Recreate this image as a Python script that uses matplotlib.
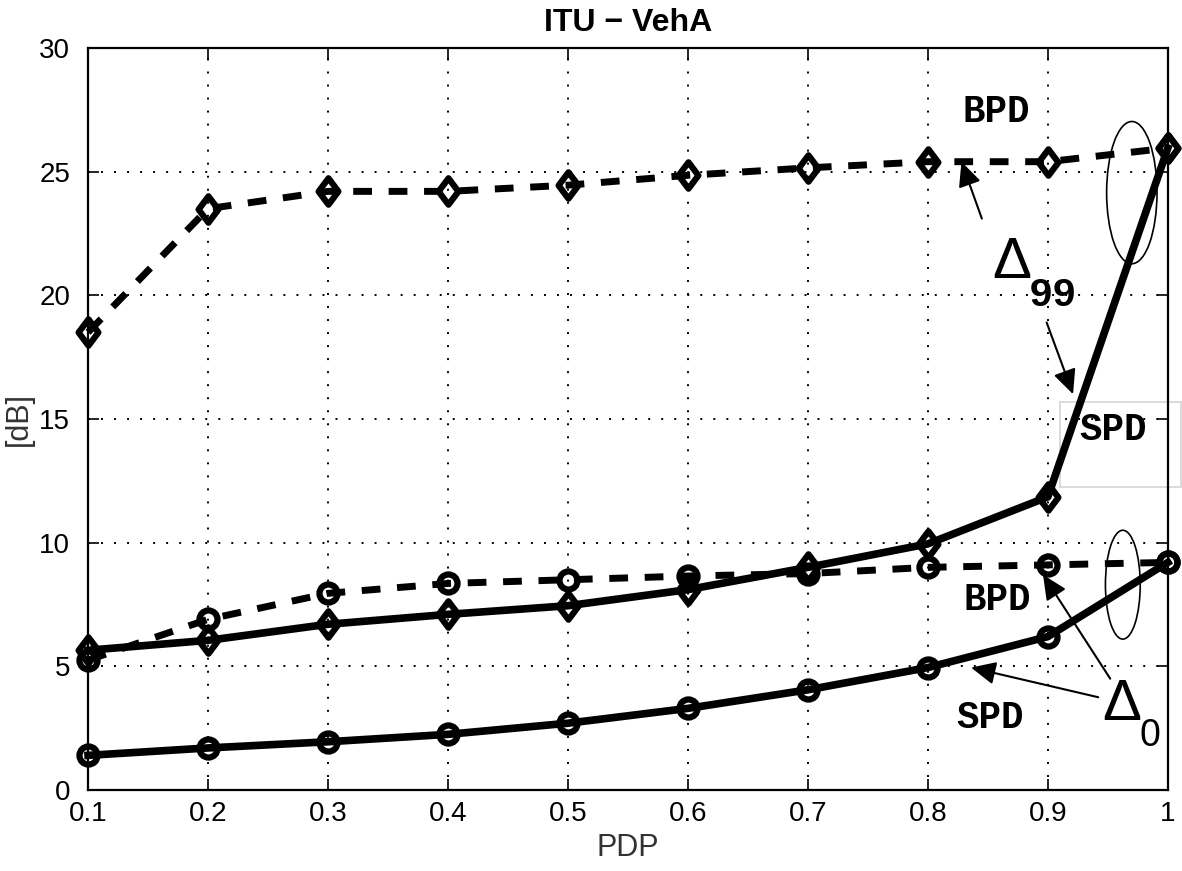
import matplotlib.pyplot as plt
from matplotlib.patches import Ellipse, Rectangle
from matplotlib.path import Path

plt.rcParams["font.family"] = ["Liberation Sans", "DejaVu Sans"]

pdp = [0.1, 0.2, 0.3, 0.4, 0.5, 0.6, 0.7, 0.8, 0.9, 1.0]

# Delta_99
bpd_d99 = [18.5, 23.5, 24.2, 24.2, 24.45, 24.85, 25.15, 25.4, 25.4, 25.95]
spd_d99 = [5.65, 6.05, 6.7, 7.1, 7.45, 8.1, 9.0, 9.95, 11.85, 25.95]
# Delta_0
bpd_d0 = [5.25, 6.9, 7.95, 8.35, 8.5, 8.65, 8.75, 9.0, 9.1, 9.2]
spd_d0 = [1.4, 1.7, 1.95, 2.25, 2.7, 3.3, 4.05, 4.95, 6.2, 9.2]

fig = plt.figure(figsize=(11.82, 8.71), dpi=100)
ax = fig.add_axes([0.0745, 0.093, 0.9135, 0.852])

# slightly narrow diamond, like the matlab one
diamond = Path([(0, 1), (0.75, 0), (0, -1), (-0.75, 0), (0, 1)],
               [Path.MOVETO, Path.LINETO, Path.LINETO, Path.LINETO, Path.CLOSEPOLY])

dmk = dict(marker=diamond, markersize=19, markeredgewidth=4.5,
           markerfacecolor="none", markeredgecolor="black", clip_on=False)
omk = dict(marker="o", markersize=13, markeredgewidth=4.5,
           markerfacecolor="none", markeredgecolor="black", clip_on=False)
dash = (2.7, 2.4)
ax.plot(pdp, bpd_d99, "k--", lw=5, dashes=dash, **dmk)
ax.plot(pdp, spd_d99, "k-", lw=5.5, **dmk)
ax.plot(pdp, bpd_d0, "k--", lw=5, dashes=dash, **omk)
ax.plot(pdp, spd_d0, "k-", lw=5.5, **omk)

ax.set_xlim(0.1, 1.0)
ax.set_ylim(0, 30)
ax.set_xticks(pdp)
ax.set_xticklabels(["0.1", "0.2", "0.3", "0.4", "0.5", "0.6", "0.7", "0.8", "0.9", "1"])
ax.set_yticks([0, 5, 10, 15, 20, 25, 30])
ax.tick_params(direction="in", labelsize=20, length=8, width=1.2, top=True, right=True)
ax.tick_params(axis="x", pad=8)
ax.tick_params(axis="y", pad=13)
ax.grid(True, linestyle=(0, (1, 5.7)), color="black", linewidth=1.4)
for s in ax.spines.values():
    s.set_linewidth(1.6)

ax.set_title("ITU \u2212 VehA", fontsize=23, fontweight="bold", pad=12)
ax.set_xlabel("PDP", fontsize=22, color="#333333", labelpad=4)
ax.set_ylabel("[dB]", fontsize=22, color="#333333", labelpad=4)

mono = ["Liberation Mono", "DejaVu Sans Mono"]
arr = dict(arrowstyle="-|>,head_length=1.5,head_width=0.7", color="black", lw=1.5,
           shrinkA=0, shrinkB=0)

# Delta_99 annotations
ax.text(0.857, 27.4, "BPD", family=mono, fontweight="bold", fontsize=27, ha="center", va="center")
ax.text(0.870, 21.3, "\u0394", fontsize=42, ha="center", va="center")
ax.text(0.904, 20.0, "99", family=mono, fontweight="bold", fontsize=29, ha="center", va="center")
ax.annotate("", xy=(0.828, 25.4), xytext=(0.845, 23.1), arrowprops=arr)
ax.annotate("", xy=(0.921, 16.0), xytext=(0.899, 18.9), arrowprops=arr)
ax.add_patch(Ellipse((0.97, 24.15), 0.042, 5.75, fill=False, edgecolor="black", lw=1.2))
ax.add_patch(Rectangle((0.91, 12.25), 0.101, 3.44, fill=False, edgecolor="#d4d4d4",
                       lw=1.2, clip_on=False))
ax.text(0.954, 14.55, "SPD", family=mono, fontweight="bold", fontsize=27, ha="center", va="center")

# Delta_0 annotations
ax.text(0.858, 7.7, "BPD", family=mono, fontweight="bold", fontsize=27, ha="center", va="center")
ax.text(0.852, 2.9, "SPD", family=mono, fontweight="bold", fontsize=27, ha="center", va="center")
ax.text(0.962, 3.45, "\u0394", fontsize=42, ha="center", va="center")
ax.text(0.985, 2.2, "0", fontsize=27, ha="center", va="center")
ax.annotate("", xy=(0.896, 8.7), xytext=(0.952, 4.5), arrowprops=arr)
ax.annotate("", xy=(0.836, 4.95), xytext=(0.942, 3.75), arrowprops=arr)
ax.add_patch(Ellipse((0.9625, 8.3), 0.029, 4.4, fill=False, edgecolor="black", lw=1.2))

fig.savefig("out.png", dpi=100)
